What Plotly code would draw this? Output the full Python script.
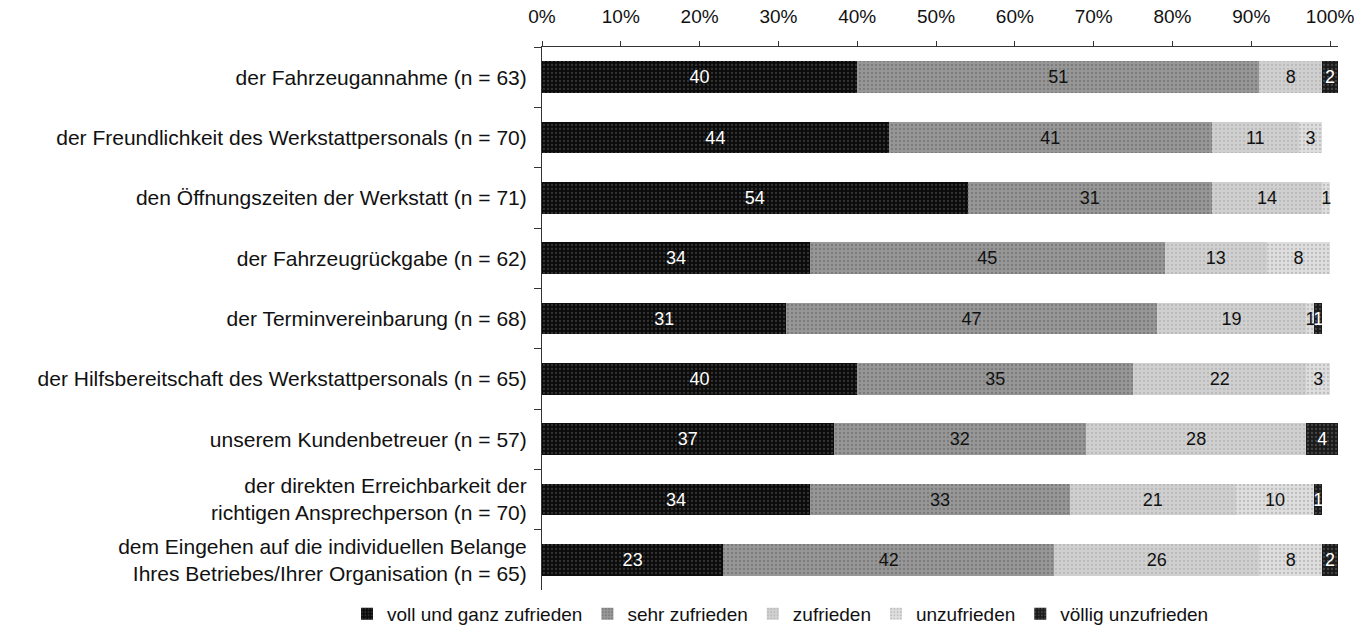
import plotly.graph_objects as go

# Satisfaction with workshop service aspects (percent of respondents)
categories = [
    "der Fahrzeugannahme (n = 63)",
    "der Freundlichkeit des Werkstattpersonals (n = 70)",
    "den Öffnungszeiten der Werkstatt (n = 71)",
    "der Fahrzeugrückgabe (n = 62)",
    "der Terminvereinbarung (n = 68)",
    "der Hilfsbereitschaft des Werkstattpersonals (n = 65)",
    "unserem Kundenbetreuer (n = 57)",
    "der direkten Erreichbarkeit der<br>richtigen Ansprechperson (n = 70)",
    "dem Eingehen auf die individuellen Belange<br>Ihres Betriebes/Ihrer Organisation (n = 65)",
]

voll_und_ganz = [40, 44, 54, 34, 31, 40, 37, 34, 23]
sehr_zufrieden = [51, 41, 31, 45, 47, 35, 32, 33, 42]
zufrieden = [8, 11, 14, 13, 19, 22, 28, 21, 26]
unzufrieden = [0, 3, 1, 8, 1, 3, 0, 10, 8]
voellig_unzufrieden = [2, 0, 0, 0, 1, 0, 4, 1, 2]

x_ticks = [0, 10, 20, 30, 40, 50, 60, 70, 80, 90, 100]
x_tick_labels = [f"{v}%" for v in x_ticks]

series = [
    ("voll und ganz zufrieden", voll_und_ganz, "#0b0b0b", "#5c5c5c", "white"),
    ("sehr zufrieden", sehr_zufrieden, "#979797", "#5e5e5e", "#111111"),
    ("zufrieden", zufrieden, "#d0d0d0", "#a4a4a4", "#111111"),
    ("unzufrieden", unzufrieden, "#dedede", "#9c9c9c", "#111111"),
    ("völlig unzufrieden", voellig_unzufrieden, "#1a1a1a", "#707070", "white"),
]

FONT = "Liberation Sans, Arial, sans-serif"

fig = go.Figure()
for name, values, color, dots, text_color in series:
    fig.add_trace(go.Bar(
        name=name,
        y=categories,
        x=values,
        orientation="h",
        width=0.52,
        text=[str(v) if v else "" for v in values],
        textposition="inside",
        insidetextanchor="middle",
        textangle=0,
        textfont=dict(family=FONT, size=18, color=text_color),
        marker=dict(
            color=color,
            line=dict(width=0),
            pattern=dict(shape=".", fgcolor=dots, size=4, solidity=0.25,
                         fillmode="overlay"),
        ),
        cliponaxis=False,
        hoverinfo="skip",
    ))

fig.update_layout(
    barmode="stack",
    width=1357,
    height=628,
    margin=dict(l=542, r=19, t=47, b=38, autoexpand=False),
    paper_bgcolor="white",
    plot_bgcolor="white",
    font=dict(family=FONT, size=19, color="#111111"),
    uniformtext=dict(minsize=18, mode="show"),
    showlegend=True,
    legend=dict(
        orientation="h",
        x=-0.245,
        xanchor="left",
        y=-0.044,
        yanchor="middle",
        font=dict(family=FONT, size=19, color="#111111"),
        itemwidth=30,
        traceorder="normal",
        bgcolor="rgba(0,0,0,0)",
    ),
    xaxis=dict(
        side="top",
        range=[0, 101],
        tickvals=x_ticks,
        ticktext=x_tick_labels,
        ticks="outside",
        ticklen=5,
        tickcolor="#333333",
        ticklabelstandoff=10,
        showgrid=False,
        zeroline=False,
        showline=True,
        linecolor="#333333",
        linewidth=1,
        tickfont=dict(family=FONT, size=19, color="#111111"),
        fixedrange=True,
    ),
    yaxis=dict(
        autorange="reversed",
        ticks="outside",
        tickson="boundaries",
        ticklen=7,
        tickcolor="#333333",
        ticklabelstandoff=10,
        showgrid=False,
        showline=True,
        linecolor="#333333",
        linewidth=1,
        tickfont=dict(family=FONT, size=21, color="#111111"),
        fixedrange=True,
    ),
)

fig.write_html("out.html")
